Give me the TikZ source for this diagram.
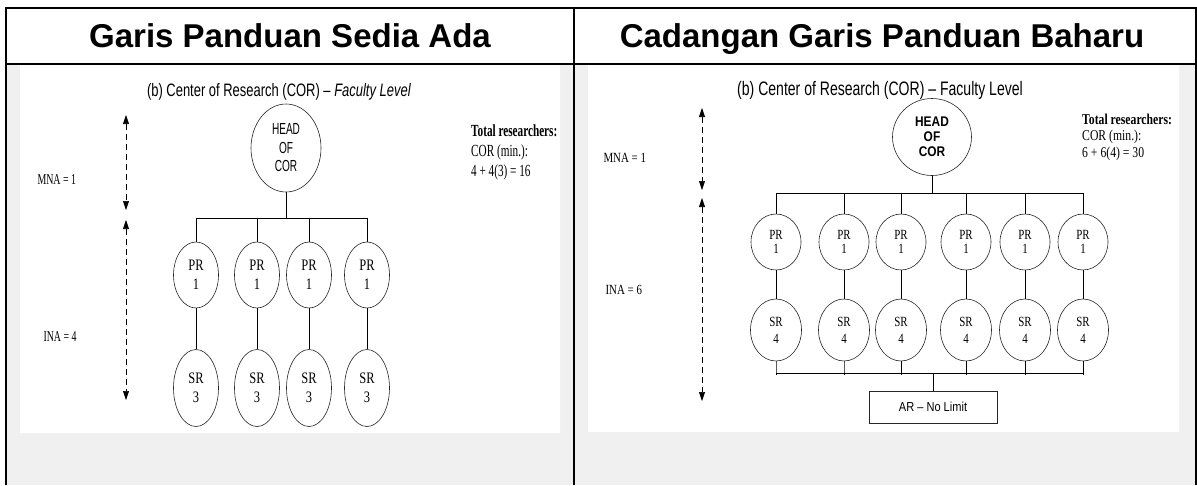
\documentclass[tikz,border=0pt]{standalone}
\usepackage{fontspec}
\setmainfont{Liberation Serif}
\setsansfont{Liberation Sans}
\newfontfamily\tallsans[FakeStretch=0.63]{Liberation Sans}
\newfontfamily\narrowsans[FakeStretch=0.72]{Liberation Sans}
\newfontfamily\widesans[FakeStretch=0.85]{Liberation Sans}
\newfontfamily\tallserif[FakeStretch=0.66]{Liberation Serif}
\newfontfamily\narrowserif[FakeStretch=0.78]{Liberation Serif}
\usetikzlibrary{shapes.geometric,arrows.meta}
\definecolor{cellgray}{RGB}{240,240,240}
\tikzset{
  member/.style={ellipse, draw=black!85, semithick, inner sep=0pt, align=center},
  chief/.style={ellipse, draw=black!85, semithick, inner sep=0pt, align=center},
  limitbox/.style={rectangle, draw=black!85, semithick, minimum width=128pt,
    minimum height=32pt, font=\widesans\fontsize{13}{15}\selectfont},
  span/.style={dash pattern=on 6pt off 4pt, semithick,
    {Triangle[length=9pt,width=6pt]}-{Triangle[length=9pt,width=6pt]}},
  level/.style={anchor=west},
  tally/.style={anchor=west, align=left, inner sep=0pt},
  heading/.style={anchor=base, font=\sffamily\bfseries\fontsize{33}{38}\selectfont},
  caption/.style={anchor=base}
}
\begin{document}
\begin{tikzpicture}[x=1pt,y=-1pt]
  \useasboundingbox (0,0) rectangle (1197,485);
  \fill[cellgray] (6,64) rectangle (1196,485);
  \fill[white] (20,65) rectangle (560,433) (588,65) rectangle (1179,432);
  \draw[line width=2pt] (6,485) |- (1196,7.5) -- (1196,485)
    (6,64) -- (1196,64) (574,7.5) -- (574,485);
  \node[heading] (oldtitle) at (290,47) {Garis Panduan Sedia Ada};
  \node[heading] (newtitle) at (882,47) {Cadangan Garis Panduan Baharu};

  \node[caption, font=\narrowsans\fontsize{18}{20}\selectfont] (lcap) at (279,96)
    {(b) Center of Research (COR) – \textit{Faculty Level}};
  \node[chief, minimum width=70pt, minimum height=88pt,
    font=\tallsans\fontsize{16}{18.5}\selectfont] (lhead) at (286,148) {HEAD\\OF\\COR};
  \coordinate (lbar) at (286,218);
  \foreach \i/\x in {1/196,2/257,3/309,4/367} {
    \node[member, minimum width=45pt, minimum height=66pt,
      font=\narrowserif\fontsize{16}{19}\selectfont] (lpr\i) at (\x,275) {PR\\1};
    \node[member, minimum width=45pt, minimum height=77pt,
      font=\narrowserif\fontsize{16}{19}\selectfont] (lsr\i) at (\x,388) {SR\\3};
    \draw[semithick] (lpr\i.north) -- (lpr\i.north |- lbar);
    \draw[semithick] (lpr\i) -- (lsr\i);
  }
  \draw[semithick] (lhead) -- (lbar);
  \draw[semithick] (lpr1.north |- lbar) -- (lpr4.north |- lbar);
  \coordinate (la1) at (126,115);
  \coordinate (la2) at (126,210);
  \coordinate (la3) at (126,220);
  \coordinate (la4) at (126,400);
  \draw[span] (la1) -- (la2);
  \draw[span] (la3) -- (la4);
  \node[level, font=\tallserif\fontsize{15}{17}\selectfont] (lmna) at (34,180) {MNA = 1};
  \node[level, font=\tallserif\fontsize{15}{17}\selectfont] (lina) at (40,337) {INA = 4};
  \node[tally, font=\tallserif\fontsize{17}{20}\selectfont] (ltally) at (471,152)
    {\textbf{Total researchers:}\\COR (min.):\\4 + 4(3) = 16};

  \node[caption, font=\narrowsans\fontsize{19.5}{21}\selectfont] (rcap) at (880,95)
    {(b) Center of Research (COR) – Faculty Level};
  \node[chief, minimum width=79pt, minimum height=77pt,
    font=\widesans\bfseries\fontsize{14}{15}\selectfont] (rhead) at (932,137) {HEAD\\OF\\COR};
  \coordinate (rbar) at (932,193);
  \coordinate (rlow) at (933,373);
  \foreach \i/\x in {1/776,2/844,3/901,4/966,5/1025,6/1083} {
    \node[member, minimum width=50pt, minimum height=56pt,
      font=\narrowserif\fontsize{14}{14}\selectfont] (rpr\i) at (\x,242) {PR\\1};
    \node[member, minimum width=51pt, minimum height=62pt,
      font=\narrowserif\fontsize{14}{17}\selectfont] (rsr\i) at (\x,330) {SR\\4};
    \draw[semithick] (rpr\i.north) -- (rpr\i.north |- rbar);
    \draw[semithick] (rpr\i) -- (rsr\i);
    \draw[semithick] (rsr\i) -- (rsr\i.south |- rlow) -- ++(0,2);
  }
  \draw[semithick] (rhead) -- (rbar);
  \draw[semithick] (rpr1.north |- rbar) -- (rpr6.north |- rbar);
  \draw[semithick] (rsr1.south |- rlow) -- (rsr6.south |- rlow);
  \node[limitbox] (ar) at (933,407) {AR – No Limit};
  \draw[semithick] (rlow) -- (ar);
  \coordinate (ra1) at (702,108);
  \coordinate (ra2) at (702,190);
  \coordinate (ra3) at (702,198);
  \coordinate (ra4) at (702,401);
  \draw[span] (ra1) -- (ra2);
  \draw[span] (ra3) -- (ra4);
  \node[level, font=\narrowserif\fontsize{14}{16}\selectfont] (rmna) at (600,158) {MNA = 1};
  \node[level, font=\narrowserif\fontsize{14}{16}\selectfont] (rina) at (602,290) {INA = 6};
  \node[tally, font=\narrowserif\fontsize{15}{16.5}\selectfont] (rtally) at (1082,137)
    {\textbf{Total researchers:}\\COR (min.):\\6 + 6(4) = 30};
\end{tikzpicture}
\end{document}
